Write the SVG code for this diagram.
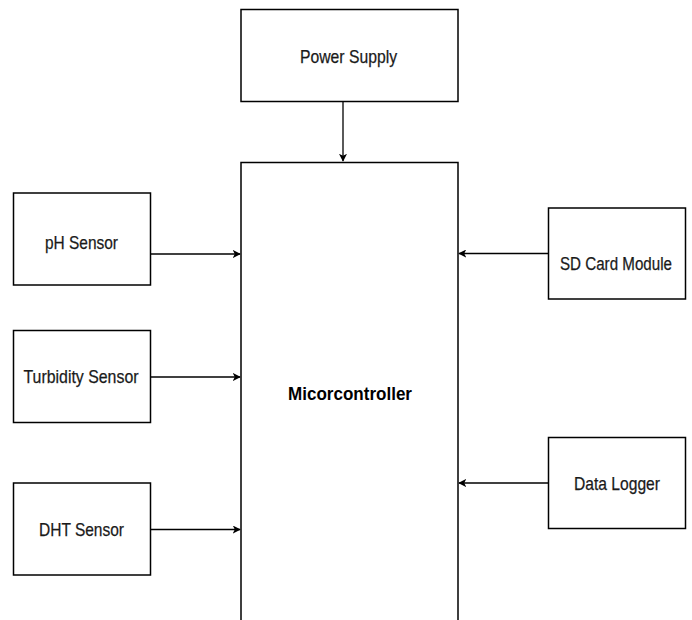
<svg xmlns="http://www.w3.org/2000/svg" width="692" height="620" viewBox="0 0 692 620">
<style>
.box{fill:#fff;stroke:#000;stroke-width:1.5}
.lbl{font-family:"Liberation Sans",Arial,sans-serif;font-size:18.5px;fill:#1a1a1a;text-anchor:middle;stroke:#1a1a1a;stroke-width:0.25}
.bold{font-weight:bold;fill:#000;stroke:none}
.conn{stroke:#000;stroke-width:1.3;fill:none}
</style>
<defs>
<marker id="ah" viewBox="0 0 10 10" refX="9" refY="5" markerWidth="8" markerHeight="8" markerUnits="userSpaceOnUse" orient="auto">
<path d="M0,0 L10,5 L0,10 L2.5,5 Z" fill="#000"/>
</marker>
</defs>
<rect width="692" height="620" fill="#fff"/>
<g id="power-supply"><rect class="box" x="241" y="9.5" width="217" height="92"/><text class="lbl" x="348.5" y="63" textLength="97" lengthAdjust="spacingAndGlyphs">Power Supply</text></g>
<g id="microcontroller"><path class="box" d="M241,625 V162.5 H458 V625"/><text class="lbl bold" x="350" y="400" textLength="124" lengthAdjust="spacingAndGlyphs">Micorcontroller</text></g>
<g id="ph-sensor"><rect class="box" x="13.5" y="193" width="137" height="92"/><text class="lbl" x="81.5" y="249" textLength="73" lengthAdjust="spacingAndGlyphs">pH Sensor</text></g>
<g id="turbidity-sensor"><rect class="box" x="13.5" y="330.5" width="137" height="92"/><text class="lbl" x="81" y="383" textLength="115" lengthAdjust="spacingAndGlyphs">Turbidity Sensor</text></g>
<g id="dht-sensor"><rect class="box" x="13.5" y="483" width="137" height="92"/><text class="lbl" x="81.5" y="536" textLength="85" lengthAdjust="spacingAndGlyphs">DHT Sensor</text></g>
<g id="sd-card-module"><rect class="box" x="548.5" y="208" width="137" height="91"/><text class="lbl" x="616" y="270" style="font-size:17.5px" textLength="112" lengthAdjust="spacingAndGlyphs">SD Card Module</text></g>
<g id="data-logger"><rect class="box" x="548.5" y="437.5" width="137" height="91"/><text class="lbl" x="617" y="490" textLength="86" lengthAdjust="spacingAndGlyphs">Data Logger</text></g>
<g id="connectors">
<line class="conn" x1="343" y1="101.5" x2="343" y2="161" marker-end="url(#ah)"/>
<line class="conn" x1="150.5" y1="254" x2="240" y2="254" marker-end="url(#ah)"/>
<line class="conn" x1="150.5" y1="377" x2="240" y2="377" marker-end="url(#ah)"/>
<line class="conn" x1="150.5" y1="529.5" x2="240" y2="529.5" marker-end="url(#ah)"/>
<line class="conn" x1="548.5" y1="253.5" x2="459" y2="253.5" marker-end="url(#ah)"/>
<line class="conn" x1="548.5" y1="483" x2="459" y2="483" marker-end="url(#ah)"/>
</g>
</svg>
